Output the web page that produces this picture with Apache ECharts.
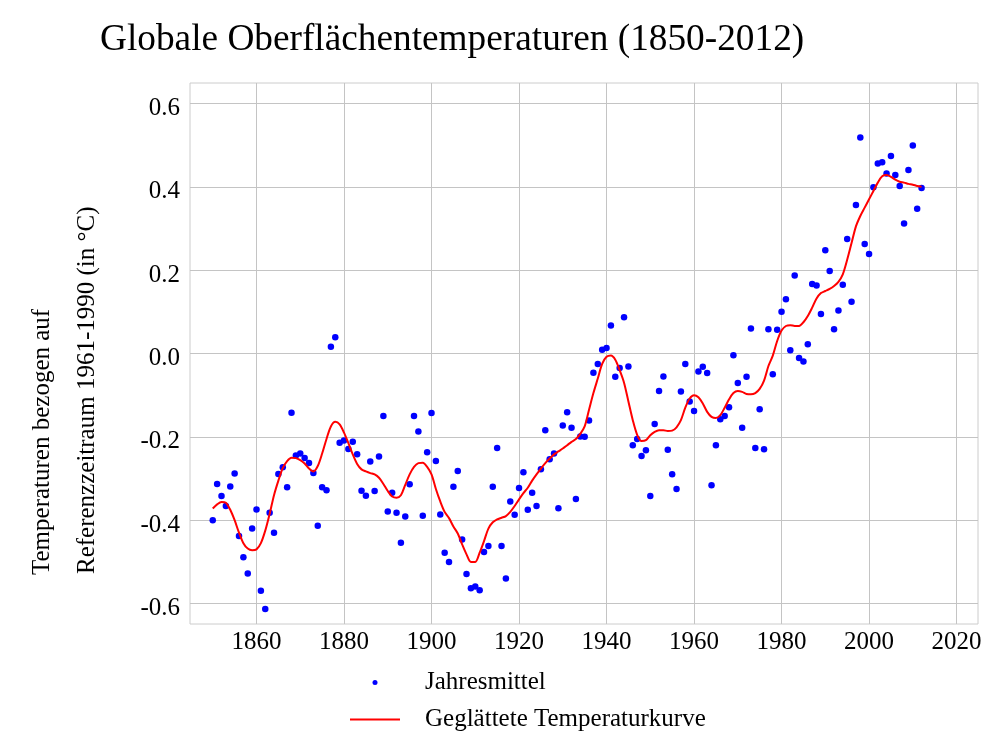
<!DOCTYPE html>
<html>
<head>
<meta charset="utf-8">
<script src="https://cdn.jsdelivr.net/npm/echarts@6/dist/echarts.min.js"></script>
<style>html,body{margin:0;padding:0;background:#fff}#c{width:1000px;height:750px}</style>
</head>
<body>
<div id="c"></div>
<script>
const years = [
1850,1851,1852,1853,1854,1855,1856,1857,1858,1859,
1860,1861,1862,1863,1864,1865,1866,1867,1868,1869,
1870,1871,1872,1873,1874,1875,1876,1877,1878,1879,
1880,1881,1882,1883,1884,1885,1886,1887,1888,1889,
1890,1891,1892,1893,1894,1895,1896,1897,1898,1899,
1900,1901,1902,1903,1904,1905,1906,1907,1908,1909,
1910,1911,1912,1913,1914,1915,1916,1917,1918,1919,
1920,1921,1922,1923,1924,1925,1926,1927,1928,1929,
1930,1931,1932,1933,1934,1935,1936,1937,1938,1939,
1940,1941,1942,1943,1944,1945,1946,1947,1948,1949,
1950,1951,1952,1953,1954,1955,1956,1957,1958,1959,
1960,1961,1962,1963,1964,1965,1966,1967,1968,1969,
1970,1971,1972,1973,1974,1975,1976,1977,1978,1979,
1980,1981,1982,1983,1984,1985,1986,1987,1988,1989,
1990,1991,1992,1993,1994,1995,1996,1997,1998,1999,
2000,2001,2002,2003,2004,2005,2006,2007,2008,2009,
2010,2011,2012
];
const annualMeans = [
-0.400,-0.313,-0.342,-0.366,-0.319,-0.288,-0.438,-0.489,-0.528,-0.420,
-0.374,-0.569,-0.613,-0.382,-0.430,-0.289,-0.273,-0.321,-0.142,-0.245,
-0.240,-0.251,-0.263,-0.287,-0.413,-0.321,-0.328, 0.016, 0.039,-0.214,
-0.209,-0.229,-0.212,-0.242,-0.329,-0.341,-0.259,-0.330,-0.247,-0.150,
-0.379,-0.334,-0.382,-0.454,-0.391,-0.314,-0.150,-0.187,-0.389,-0.237,
-0.143,-0.258,-0.386,-0.478,-0.500,-0.320,-0.282,-0.446,-0.529,-0.563,
-0.559,-0.568,-0.476,-0.462,-0.320,-0.227,-0.462,-0.540,-0.355,-0.387,
-0.323,-0.285,-0.375,-0.334,-0.366,-0.278,-0.184,-0.254,-0.240,-0.371,
-0.173,-0.141,-0.178,-0.349,-0.199,-0.200,-0.161,-0.046,-0.025, 0.009,
 0.013, 0.067,-0.056,-0.035, 0.087,-0.031,-0.220,-0.205,-0.246,-0.232,
-0.342,-0.169,-0.090,-0.055,-0.231,-0.290,-0.325,-0.091,-0.025,-0.115,
-0.138,-0.043,-0.032,-0.047,-0.316,-0.220,-0.158,-0.150,-0.129,-0.004,
-0.071,-0.178,-0.056, 0.060,-0.227,-0.134,-0.230, 0.058,-0.050, 0.057,
 0.100, 0.130, 0.008, 0.187,-0.011,-0.019, 0.022, 0.167, 0.163, 0.095,
 0.248, 0.198, 0.058, 0.103, 0.165, 0.275, 0.124, 0.356, 0.518, 0.263,
 0.239, 0.399, 0.456, 0.459, 0.432, 0.474, 0.428, 0.402, 0.312, 0.440,
 0.499, 0.347, 0.397
];
const smoothed = [
-0.372,-0.362,-0.356,-0.358,-0.375,-0.400,-0.430,-0.455,-0.468,-0.472,
-0.470,-0.455,-0.425,-0.385,-0.340,-0.305,-0.275,-0.258,-0.250,-0.251,
-0.256,-0.264,-0.276,-0.283,-0.270,-0.240,-0.205,-0.175,-0.164,-0.170,
-0.190,-0.215,-0.242,-0.265,-0.278,-0.283,-0.287,-0.290,-0.298,-0.313,
-0.330,-0.343,-0.346,-0.340,-0.315,-0.290,-0.272,-0.263,-0.262,-0.272,
-0.290,-0.325,-0.355,-0.380,-0.395,-0.415,-0.432,-0.458,-0.482,-0.500,
-0.500,-0.478,-0.450,-0.420,-0.405,-0.398,-0.394,-0.390,-0.380,-0.366,
-0.350,-0.335,-0.322,-0.305,-0.290,-0.276,-0.263,-0.252,-0.242,-0.235,
-0.228,-0.220,-0.212,-0.205,-0.193,-0.175,-0.135,-0.095,-0.060,-0.025,
-0.008,-0.005,-0.015,-0.040,-0.070,-0.115,-0.160,-0.195,-0.210,-0.208,
-0.196,-0.188,-0.184,-0.184,-0.186,-0.185,-0.177,-0.160,-0.130,-0.108,
-0.100,-0.105,-0.120,-0.140,-0.152,-0.155,-0.148,-0.130,-0.110,-0.095,
-0.090,-0.092,-0.097,-0.098,-0.095,-0.085,-0.065,-0.030,-0.005, 0.030,
 0.055, 0.066, 0.068, 0.066, 0.066, 0.075, 0.090, 0.110, 0.132, 0.145,
 0.150, 0.155, 0.162, 0.172, 0.190, 0.225, 0.265, 0.305, 0.330, 0.350,
 0.370, 0.390, 0.410, 0.425, 0.428, 0.424, 0.417, 0.412, 0.410, 0.407,
 0.405, 0.402, 0.400
];
const xTicks = [1860,1880,1900,1920,1940,1960,1980,2000,2020];
const yTicks = [-0.6,-0.4,-0.2,0.0,0.2,0.4,0.6];
const titleText = 'Globale Oberflächentemperaturen (1850-2012)';
const yNameLines = ['Temperaturen bezogen auf', 'Referenzzeitraum 1961-1990 (in °C)'];
const seriesNames = ['Jahresmittel', 'Geglättete Temperaturkurve'];

const FONT = '"Liberation Serif", "DejaVu Serif", serif';
const chart = echarts.init(document.getElementById('c'), null, {renderer: 'canvas'});
const option = {
  backgroundColor: '#ffffff',
  animation: false,
  title: {
    text: titleText,
    left: 95, top: 17,
    textStyle: {fontFamily: FONT, fontSize: 37.3, fontWeight: 'normal', color: '#000'}
  },
  grid: {
    left: 190, right: 22, top: 83, bottom: 126,
    show: true, borderColor: '#cccccc', borderWidth: 1, backgroundColor: 'transparent'
  },
  xAxis: {
    type: 'value', min: 1844.8, max: 2024.9,
    axisLine: {show: false},
    axisTick: {show: false, customValues: xTicks},
    axisLabel: {customValues: xTicks, fontFamily: FONT, fontSize: 25, color: '#000', margin: 6,
      formatter: v => String(v)},
    splitLine: {show: true, lineStyle: {color: '#c4c4c4', width: 1}}
  },
  yAxis: {
    type: 'value', min: -0.649, max: 0.649,
    axisLine: {show: false},
    axisTick: {show: false, customValues: yTicks},
    axisLabel: {customValues: yTicks, fontFamily: FONT, fontSize: 25, color: '#000', margin: 10,
      formatter: v => '{t|' + Number(v).toFixed(1) + '}',
      rich: {t: {fontFamily: FONT, fontSize: 25, color: '#000', padding: [10, 0, 0, 0]}}},
    splitLine: {show: true, lineStyle: {color: '#c4c4c4', width: 1}}
  },
  legend: {
    orient: 'vertical', left: 345, top: 665,
    itemWidth: 50, itemHeight: 5, itemGap: 12,
    textStyle: {fontFamily: FONT, fontSize: 25, color: '#000', padding: [0, 0, 0, 20]},
    data: [
      {name: seriesNames[0], icon: 'circle', itemStyle: {color: '#0000ff', opacity: 1}},
      {name: seriesNames[1], icon: 'path://M0,0M50,5M0,1.5L50,1.5L50,3.5L0,3.5Z',
       itemStyle: {color: '#ff0000'}}
    ]
  },
  graphic: [
    {type: 'text', x: 42, y: 575, rotation: Math.PI / 2,
     style: {text: yNameLines[0], font: '25px ' + FONT, fill: '#000', textAlign: 'left', textVerticalAlign: 'middle'}},
    {type: 'text', x: 87, y: 574, rotation: Math.PI / 2,
     style: {text: yNameLines[1], font: '25px ' + FONT, fill: '#000', textAlign: 'left', textVerticalAlign: 'middle'}}
  ],
  series: [
    {
      name: seriesNames[0], type: 'scatter',
      data: years.map((y, i) => [y, annualMeans[i]]),
      symbol: 'circle', symbolSize: 6.5,
      itemStyle: {color: '#0000ff', opacity: 1}
    },
    {
      name: seriesNames[1], type: 'line',
      data: years.map((y, i) => [y, smoothed[i]]),
      symbol: 'none', smooth: 0.3,
      lineStyle: {color: '#ff0000', width: 2},
      itemStyle: {color: '#ff0000'}
    }
  ]
};
chart.setOption(option);
</script>
</body>
</html>
